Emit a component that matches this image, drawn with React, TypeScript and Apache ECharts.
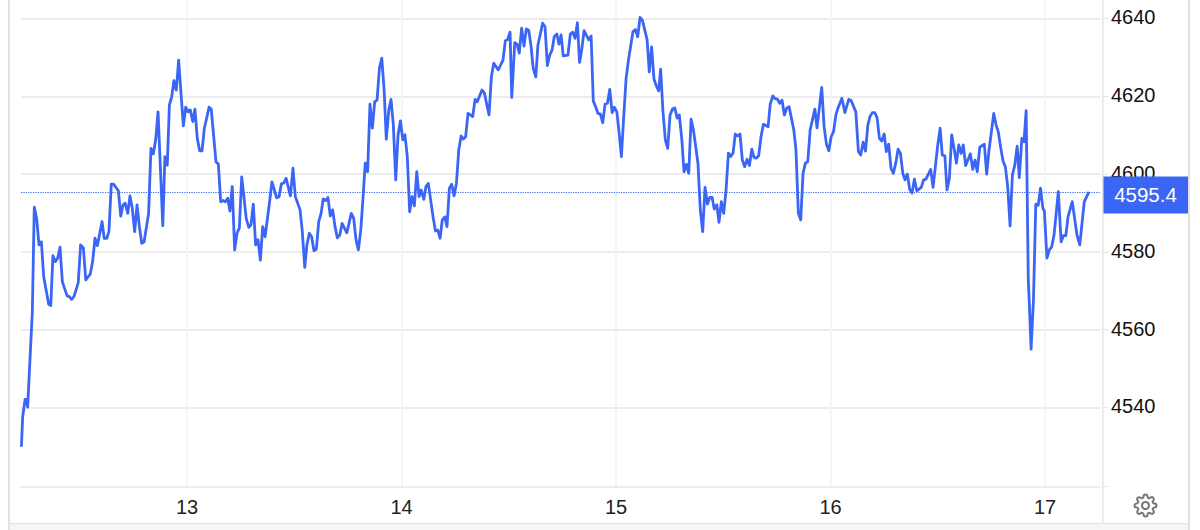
import React, { useEffect, useRef } from "react";
import * as echarts from "echarts";

// [day of month (decimal), index level]
const day12: [number, number][] = [
  [12.228,4529.9],[12.234,4537.6],[12.245,4542.1],[12.25,4542.1],[12.257,4540.1],[12.279,4564.6],[12.288,4591.5],[12.299,4588.6],[12.31,4581.8],[12.321,4582.6],[12.332,4573.6],[12.355,4566.6],[12.365,4566.2],[12.375,4579.0],[12.386,4577.5],[12.397,4578.4],[12.408,4581.2],[12.419,4572.3],[12.441,4568.7],[12.451,4568.5],[12.462,4567.8],[12.473,4568.5],[12.493,4572.1],[12.504,4581.8],[12.517,4581.0],[12.528,4572.8],[12.539,4573.6],[12.549,4574.3],[12.56,4577.5],[12.571,4583.5],[12.582,4581.6],[12.604,4587.8],[12.614,4583.5],[12.626,4583.5],[12.636,4585.2],[12.647,4597.4],[12.658,4597.4],[12.68,4595.7],[12.691,4589.2],[12.702,4592.1],[12.712,4592.5],[12.724,4589.9],[12.734,4594.4],[12.745,4591.2],[12.756,4585.2],[12.767,4592.1],[12.778,4586.5],[12.789,4582.2],[12.8,4582.6],[12.821,4589.9],[12.832,4606.6],[12.843,4605.2],[12.854,4608.8],[12.865,4616.0],[12.876,4601.5],[12.887,4586.7],[12.897,4604.5],[12.908,4602.3],[12.918,4617.8],[12.929,4619.9],[12.939,4624.0],[12.95,4621.6],[12.961,4629.3],[12.972,4620.8],[12.983,4612.4],[12.994,4617.2],
];
const day13: [number, number][] = [
  [13.005,4616.0],[13.015,4616.5],[13.027,4613.5],[13.037,4616.7],[13.048,4609.2],[13.059,4606.0],[13.07,4606.0],[13.081,4611.8],[13.103,4617.2],[13.113,4616.7],[13.135,4603.2],[13.146,4602.6],[13.157,4592.9],[13.168,4593.2],[13.179,4592.9],[13.19,4593.8],[13.2,4590.5],[13.211,4596.8],[13.222,4580.5],[13.233,4584.8],[13.244,4586.1],[13.255,4599.3],[13.266,4593.8],[13.276,4588.6],[13.288,4586.3],[13.298,4586.9],[13.309,4592.3],[13.32,4581.8],[13.331,4583.1],[13.342,4577.9],[13.353,4586.5],[13.364,4583.9],[13.386,4593.3],[13.396,4598.0],[13.418,4593.9],[13.429,4594.2],[13.44,4597.5],[13.451,4597.7],[13.462,4598.9],[13.482,4594.4],[13.494,4601.5],[13.505,4594.2],[13.527,4590.8],[13.537,4585.6],[13.549,4576.0],[13.559,4581.8],[13.57,4584.8],[13.581,4583.9],[13.592,4580.3],[13.603,4580.7],[13.614,4587.8],[13.625,4589.9],[13.635,4593.6],[13.647,4593.2],[13.657,4594.0],[13.668,4589.2],[13.679,4590.8],[13.69,4586.5],[13.701,4583.6],[13.712,4584.3],[13.723,4587.3],[13.745,4584.9],[13.766,4589.9],[13.777,4588.6],[13.788,4583.1],[13.799,4580.5],[13.81,4585.6],[13.821,4594.2],[13.831,4602.8],[13.842,4600.6],[13.853,4618.0],[13.864,4611.8],[13.875,4618.6],[13.886,4619.0],[13.897,4627.2],[13.908,4629.8],[13.919,4621.6],[13.929,4609.0],[13.941,4616.5],[13.951,4619.2],[13.962,4612.6],[13.973,4598.5],[13.984,4610.1],[13.995,4613.7],
];
const day14: [number, number][] = [
  [14.006,4608.8],[14.016,4610.1],[14.027,4604.5],[14.038,4590.3],[14.049,4594.2],[14.06,4591.8],[14.071,4600.6],[14.082,4594.2],[14.092,4595.9],[14.104,4593.5],[14.114,4596.8],[14.125,4597.6],[14.147,4589.0],[14.158,4585.4],[14.169,4585.6],[14.18,4583.5],[14.19,4588.2],[14.202,4589.0],[14.212,4586.5],[14.223,4596.3],[14.234,4597.4],[14.245,4594.4],[14.256,4597.6],[14.267,4606.2],[14.278,4609.8],[14.288,4609.0],[14.299,4609.6],[14.31,4615.6],[14.332,4614.8],[14.343,4619.2],[14.353,4618.6],[14.375,4621.6],[14.386,4620.9],[14.408,4615.2],[14.419,4625.0],[14.43,4628.5],[14.451,4626.8],[14.473,4629.3],[14.484,4634.3],[14.495,4634.6],[14.506,4636.5],[14.514,4619.7],[14.528,4633.8],[14.539,4633.4],[14.549,4631.1],[14.56,4637.5],[14.571,4632.9],[14.582,4637.3],[14.593,4637.0],[14.604,4632.8],[14.614,4627.2],[14.626,4625.0],[14.636,4633.2],[14.658,4638.8],[14.669,4637.9],[14.68,4627.9],[14.691,4630.6],[14.702,4631.9],[14.712,4635.3],[14.724,4636.0],[14.734,4633.4],[14.744,4635.8],[14.754,4630.4],[14.776,4630.6],[14.787,4636.0],[14.798,4636.5],[14.809,4634.9],[14.82,4638.9],[14.83,4628.7],[14.84,4631.9],[14.851,4636.9],[14.873,4634.5],[14.884,4635.5],[14.894,4618.8],[14.905,4617.3],[14.916,4615.6],[14.927,4615.4],[14.938,4613.2],[14.949,4618.0],[14.96,4618.2],[14.971,4621.8],[14.982,4615.8],[14.992,4617.2],
];
const day15: [number, number][] = [
  [15.004,4615.9],[15.014,4610.9],[15.025,4604.5],[15.036,4614.8],[15.047,4624.6],[15.058,4629.3],[15.079,4636.6],[15.09,4637.2],[15.101,4635.3],[15.112,4640.3],[15.123,4639.6],[15.145,4634.5],[15.155,4626.3],[15.166,4632.7],[15.177,4624.4],[15.188,4622.7],[15.199,4621.4],[15.208,4627.0],[15.219,4616.0],[15.23,4608.8],[15.241,4606.6],[15.252,4615.2],[15.263,4616.7],[15.274,4617.0],[15.285,4614.4],[15.295,4615.2],[15.307,4608.8],[15.317,4600.6],[15.328,4602.5],[15.339,4600.2],[15.35,4614.1],[15.361,4611.3],[15.382,4602.8],[15.393,4590.8],[15.404,4585.2],[15.415,4596.6],[15.426,4592.3],[15.437,4594.0],[15.448,4594.0],[15.458,4591.0],[15.47,4592.1],[15.48,4587.6],[15.491,4592.9],[15.502,4589.9],[15.513,4595.9],[15.524,4605.4],[15.535,4604.5],[15.546,4605.5],[15.556,4610.3],[15.567,4609.8],[15.578,4610.3],[15.589,4603.6],[15.6,4601.9],[15.611,4603.8],[15.622,4602.2],[15.633,4606.4],[15.643,4604.3],[15.654,4604.1],[15.665,4604.7],[15.676,4609.6],[15.687,4612.8],[15.709,4612.2],[15.719,4618.0],[15.731,4620.1],[15.741,4619.4],[15.752,4619.3],[15.763,4618.2],[15.774,4619.0],[15.785,4615.2],[15.796,4617.0],[15.807,4617.3],[15.829,4611.3],[15.839,4606.2],[15.85,4590.0],[15.861,4588.2],[15.872,4600.2],[15.883,4602.8],[15.894,4603.2],[15.905,4611.3],[15.927,4616.7],[15.937,4611.9],[15.959,4622.3],[15.97,4612.2],[15.981,4607.7],[15.992,4606.0],
];
const day16: [number, number][] = [
  [16.003,4609.6],[16.014,4610.9],[16.025,4615.2],[16.035,4617.0],[16.053,4619.5],[16.067,4615.8],[16.085,4619.2],[16.096,4618.9],[16.118,4616.0],[16.13,4605.8],[16.141,4604.9],[16.152,4608.2],[16.163,4605.9],[16.174,4612.6],[16.184,4614.8],[16.195,4615.8],[16.206,4615.8],[16.217,4614.5],[16.228,4609.2],[16.239,4608.5],[16.25,4610.3],[16.26,4605.8],[16.271,4607.7],[16.282,4601.5],[16.293,4600.2],[16.304,4602.8],[16.315,4606.4],[16.326,4605.3],[16.337,4600.2],[16.347,4598.5],[16.358,4600.0],[16.369,4596.1],[16.38,4595.1],[16.391,4598.7],[16.402,4595.7],[16.423,4596.6],[16.434,4598.5],[16.445,4598.7],[16.467,4601.2],[16.478,4596.6],[16.5,4607.5],[16.511,4611.8],[16.521,4604.9],[16.533,4604.7],[16.543,4595.9],[16.554,4598.9],[16.565,4610.1],[16.576,4606.6],[16.587,4602.8],[16.598,4607.5],[16.609,4605.3],[16.619,4607.5],[16.63,4602.2],[16.652,4605.2],[16.663,4601.2],[16.674,4603.6],[16.684,4600.6],[16.696,4606.9],[16.717,4607.7],[16.728,4600.0],[16.739,4606.2],[16.761,4615.6],[16.772,4612.6],[16.782,4610.9],[16.794,4606.6],[16.804,4603.4],[16.815,4601.9],[16.826,4596.8],[16.837,4586.7],[16.848,4599.8],[16.859,4602.3],[16.87,4607.2],[16.88,4599.1],[16.892,4609.2],[16.902,4608.3],[16.912,4616.3],[16.922,4572.8],[16.928,4565.1],[16.935,4555.0],[16.946,4567.5],[16.957,4592.3],[16.968,4592.0],[16.979,4596.4],[16.99,4591.2],[16.997,4590.5],
];
const day17: [number, number][] = [
  [17.009,4578.4],[17.02,4580.5],[17.031,4581.3],[17.042,4584.3],[17.062,4595.5],[17.075,4582.6],[17.086,4584.2],[17.097,4584.2],[17.107,4589.0],[17.127,4592.9],[17.149,4584.3],[17.162,4581.8],[17.183,4592.9],[17.205,4595.4],
];

const lastValue = 4595.4;
const lastLabel = "4595.4";
const dayTicks = [13, 14, 15, 16, 17];
const levelTicks = [4540, 4560, 4580, 4600, 4620, 4640];

const BLUE = "#3b66f5";
const FONT = '"Liberation Sans", Arial, sans-serif';

const GEAR =
  "M19.4 15a1.65 1.65 0 0 0 .33 1.82l.06.06a2 2 0 0 1 0 2.83 2 2 0 0 1-2.83 0l-.06-.06a1.65 1.65 0 0 0-1.82-.33 1.65 1.65 0 0 0-1 1.51V21a2 2 0 0 1-2 2 2 2 0 0 1-2-2v-.09A1.65 1.65 0 0 0 9 19.4a1.65 1.65 0 0 0-1.82.33l-.06.06a2 2 0 0 1-2.83 0 2 2 0 0 1 0-2.83l.06-.06a1.65 1.65 0 0 0 .33-1.82 1.65 1.65 0 0 0-1.51-1H3a2 2 0 0 1-2-2 2 2 0 0 1 2-2h.09A1.65 1.65 0 0 0 4.6 9a1.65 1.65 0 0 0-.33-1.82l-.06-.06a2 2 0 0 1 0-2.83 2 2 0 0 1 2.83 0l.06.06a1.65 1.65 0 0 0 1.82.33H9a1.65 1.65 0 0 0 1-1.51V3a2 2 0 0 1 2-2 2 2 0 0 1 2 2v.09a1.65 1.65 0 0 0 1 1.51 1.65 1.65 0 0 0 1.82-.33l.06-.06a2 2 0 0 1 2.83 0 2 2 0 0 1 0 2.83l-.06.06a1.65 1.65 0 0 0-.33 1.82V9a1.65 1.65 0 0 0 1.51 1H21a2 2 0 0 1 2 2 2 2 0 0 1-2 2h-.09a1.65 1.65 0 0 0-1.51 1z";
echarts.graphic.registerShape("gear", echarts.graphic.extendPath(GEAR, {}) as any);

export default function App() {
  const ref = useRef<HTMLDivElement>(null);
  useEffect(() => {
    const chart = echarts.init(ref.current!, undefined, { renderer: "svg" });
    const border = "#e2e2e2";
    chart.setOption({
      animation: false,
      backgroundColor: "#ffffff",
      grid: { left: 21, top: 0, width: 1079, height: 487 },
      xAxis: {
        type: "value",
        min: 12.2261,
        max: 17.2563,
        axisLine: { show: true, lineStyle: { color: "#e6e6e6", width: 1.5 } },
        axisTick: { show: false, customValues: dayTicks },
        axisLabel: {
          customValues: dayTicks,
          color: "#222",
          fontFamily: FONT,
          fontSize: 20,
          margin: 10,
          formatter: (v: number) => String(v),
        },
        splitLine: { show: true, lineStyle: { color: "#f2f5fa", width: 2 } },
      },
      yAxis: {
        type: "value",
        position: "right",
        offset: 3,
        min: 4519.55,
        max: 4644.756,
        axisLine: { show: false },
        axisTick: { show: true, customValues: levelTicks, length: 5, lineStyle: { color: "#e6e6e6", width: 1 } },
        axisLabel: {
          customValues: levelTicks,
          color: "#111",
          fontFamily: FONT,
          fontSize: 20,
          margin: 8,
          verticalAlign: "bottom",
          lineHeight: 20,
          padding: [0, 0, -9, 0],
          formatter: (v: number) => String(v),
        },
        splitLine: { show: true, lineStyle: { color: "#e6e6e6", width: 1.5 } },
      },
      series: [
        {
          type: "line",
          data: [...day12, ...day13, ...day14, ...day15, ...day16, ...day17],
          showSymbol: false,
          symbol: "none",
          z: 5,
          lineStyle: { color: BLUE, width: 2.8, join: "round" },
          markLine: {
            silent: true,
            symbol: "none",
            z: 4,
            lineStyle: { color: BLUE, type: "dotted", width: 1.2 },
            label: {
              show: true,
              position: "end",
              distance: 0,
              offset: [45.5, 3],
              formatter: lastLabel,
              color: "#fff",
              fontFamily: FONT,
              fontSize: 20.5,
              backgroundColor: BLUE,
              width: 85,
              height: 37,
              lineHeight: 37,
              align: "center",
            },
            data: [{ yAxis: lastValue }],
          },
        },
      ],
      graphic: [
        { type: "rect", shape: { x: 8, y: 0, width: 2, height: 530 }, style: { fill: border }, z: 20 },
        { type: "rect", shape: { x: 1188, y: 0, width: 2, height: 530 }, style: { fill: border }, z: 20 },
        { type: "rect", shape: { x: 10, y: 523, width: 1178, height: 1.5 }, style: { fill: border }, z: 20 },
        { type: "rect", shape: { x: 10, y: 524.5, width: 1178, height: 5.5 }, style: { fill: "#f6f6f6" }, z: 20 },
        { type: "rect", shape: { x: 1102, y: 0, width: 1.5, height: 523 }, style: { fill: "#e6e6e6" }, z: 20 },
        { type: "rect", shape: { x: 1103, y: 486, width: 6, height: 1 }, style: { fill: "#e6e6e6" }, z: 20 },
        { type: "gear", x: 1133.5, y: 493.5, style: { fill: "none", stroke: "#777", lineWidth: 2 }, z: 20 },
        { type: "circle", shape: { cx: 1145.5, cy: 505.5, r: 3.5 }, style: { fill: "none", stroke: "#777", lineWidth: 2 }, z: 20 },
      ],
    });
    return () => chart.dispose();
  }, []);
  return <div ref={ref} style={{ position: "fixed", left: 0, top: 0, width: 1200, height: 530 }} />;
}
